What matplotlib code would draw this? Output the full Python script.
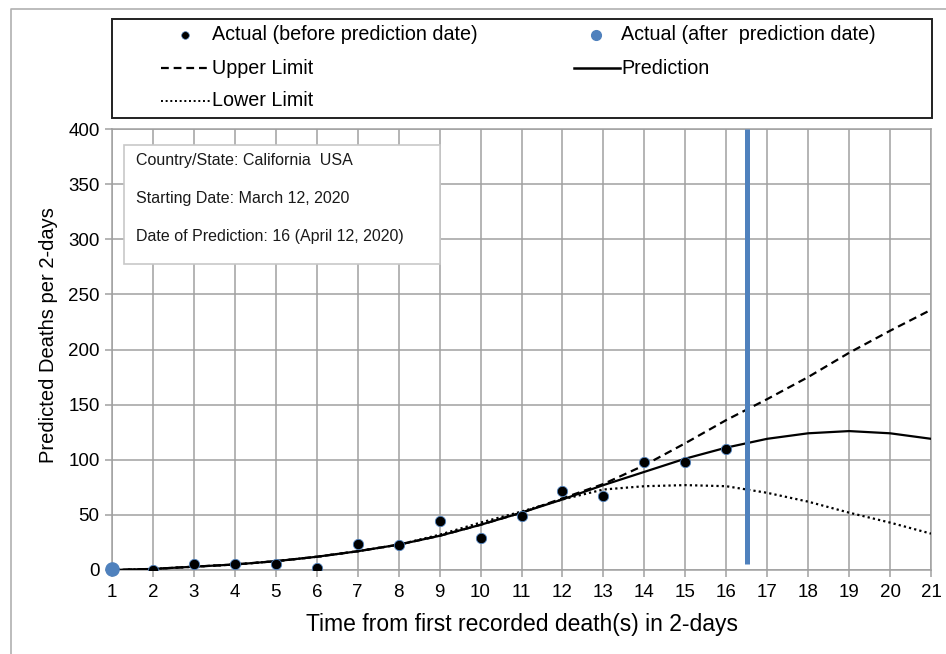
import matplotlib
matplotlib.use("Agg")
import matplotlib.pyplot as plt
from matplotlib.lines import Line2D
from matplotlib.patches import Rectangle

plt.rcParams['font.family'] = ['Liberation Sans', 'DejaVu Sans']

# ---- data ----
x_days = list(range(1, 22))
actual_x = list(range(2, 17))
actual_before = [0, 5, 5, 5, 2, 24, 23, 44, 29, 49, 72, 67, 98, 98, 110]
after_x = [1]
actual_after = [1]
prediction = [0, 1, 3, 5, 8, 12, 17, 23, 31, 41, 52, 64, 77, 89, 101, 111, 119, 124, 126, 124, 119]
upper = [0, 1, 3, 5, 8, 12, 17, 23, 31, 41, 52, 65, 78, 95, 115, 136, 155, 175, 197, 217, 236]
lower = [0, 1, 3, 5, 8, 12, 17, 23, 32, 43, 53, 64, 73, 76, 77, 76, 70, 62, 52, 43, 33]
prediction_day = 16.5
x_ticks = list(range(1, 22))
y_ticks = [0, 50, 100, 150, 200, 250, 300, 350, 400]
info_lines = ["Country/State: California  USA",
              "Starting Date: March 12, 2020",
              "Date of Prediction: 16 (April 12, 2020)"]

W, H = 946, 654
fig = plt.figure(figsize=(W / 100, H / 100), dpi=100)

def fx(px):
    return px / W

def fy(py):
    return 1 - py / H

ax = fig.add_axes([fx(112), fy(570), fx(931) - fx(112), fy(129) - fy(570)])
blue = '#4F81BD'
grid_c = '#a0a0a0'

ax.plot(x_days, upper, color='black', lw=1.6, ls=(0, (3.5, 2.2)), zorder=3)
ax.plot(x_days, lower, color='black', lw=1.6, ls=(0, (1, 1.4)), zorder=3)
ax.plot(x_days, prediction, color='black', lw=1.6, zorder=3)
ax.plot([prediction_day, prediction_day], [5, 400], color=blue, lw=3.6, zorder=4, solid_capstyle='butt')
ax.scatter(actual_x, actual_before, s=55, color='black', edgecolors=blue, linewidths=0.6, zorder=5)
ax.scatter(after_x, actual_after, s=90, color=blue, zorder=5, clip_on=False)

ax.set_xlim(1, 21)
ax.set_ylim(0, 400)
ax.set_xticks(x_ticks)
ax.set_yticks(y_ticks)
ax.tick_params(labelsize=13.5, length=5, color=grid_c, width=1.1, pad=4)
ax.tick_params(axis='x', pad=5)
ax.grid(True, color=grid_c, lw=1.1)
ax.set_axisbelow(True)
for s in ax.spines.values():
    s.set_color(grid_c)
    s.set_linewidth(1.1)
ax.set_xlabel("Time from first recorded death(s) in 2-days", fontsize=16.5, labelpad=9)
ax.set_ylabel("Predicted Deaths per 2-days", fontsize=14.5)
ax.yaxis.set_label_coords(-0.066, (570 - 335.5) / 441)

# info box
box = Rectangle((fx(124), fy(264)), fx(440) - fx(124), fy(145) - fy(264),
                transform=fig.transFigure, facecolor='white', edgecolor='#c8c8c8', lw=1.2, zorder=10)
fig.add_artist(box)
for t, py in zip(info_lines, [161, 199, 237]):
    fig.text(fx(136), fy(py), t, fontsize=11.5, va='center', ha='left', color='#1a1a1a', zorder=11)

# legend box
leg = Rectangle((fx(112), fy(118)), fx(932) - fx(112), fy(19) - fy(118),
                transform=fig.transFigure, facecolor='white', edgecolor='#202020', lw=1.4, zorder=10)
fig.add_artist(leg)
fs_leg = 14.2
fig.add_artist(Line2D([fx(185)], [fy(35)], marker='o', ms=5.5, color='black', mec=blue, mew=0.5,
                      transform=fig.transFigure, zorder=11))
fig.text(fx(212), fy(35), "Actual (before prediction date)", fontsize=fs_leg, va='center', zorder=11)
fig.add_artist(Line2D([fx(596)], [fy(35)], marker='o', ms=7, color=blue, mec=blue,
                      transform=fig.transFigure, zorder=11))
fig.text(fx(621), fy(35), "Actual (after  prediction date)", fontsize=fs_leg, va='center', zorder=11)
fig.add_artist(Line2D([fx(161), fx(210)], [fy(68), fy(68)], color='black', lw=1.6, ls=(0, (3.5, 2.2)),
                      transform=fig.transFigure, zorder=11))
fig.text(fx(212), fy(68), "Upper Limit", fontsize=fs_leg, va='center', zorder=11)
fig.add_artist(Line2D([fx(574), fx(620)], [fy(68), fy(68)], color='black', lw=1.8,
                      transform=fig.transFigure, zorder=11))
fig.text(fx(621), fy(68), "Prediction", fontsize=fs_leg, va='center', zorder=11)
fig.add_artist(Line2D([fx(161), fx(210)], [fy(101), fy(101)], color='black', lw=1.4, ls=(0, (1, 1.4)),
                      transform=fig.transFigure, zorder=11))
fig.text(fx(212), fy(101), "Lower Limit", fontsize=fs_leg, va='center', zorder=11)

# outer frame
fig.add_artist(Line2D([fx(11), fx(11), fx(946)], [fy(654), fy(9), fy(9)], color='#b0b0b0', lw=1.2,
                      transform=fig.transFigure))

fig.savefig("out.png", dpi=100, facecolor='white')
